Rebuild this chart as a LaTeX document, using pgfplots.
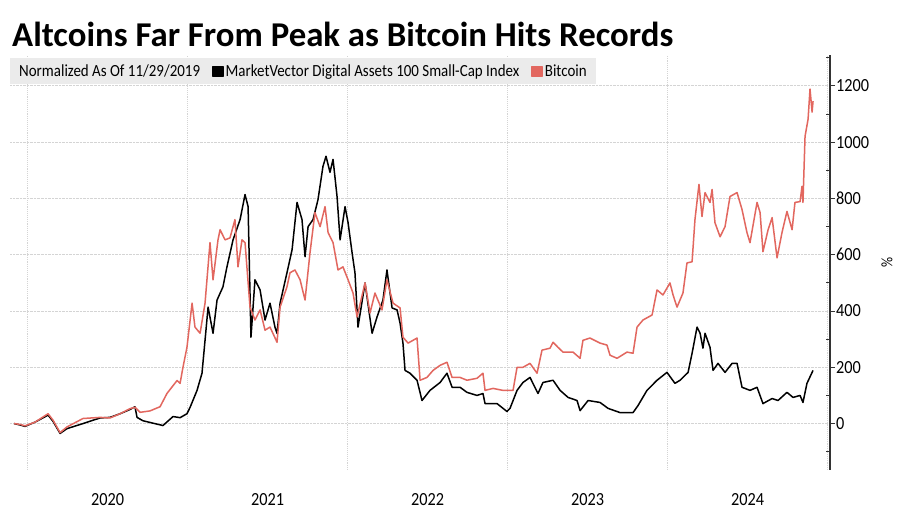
\documentclass[border=0pt]{standalone}
\usepackage{pgfplots}
\pgfplotsset{compat=1.18}
\usepackage{pgfplotstable}
\usepackage{fontspec}
\setmainfont{Carlito}[FakeStretch=0.88]
\newfontfamily\titlefont{Carlito}
\definecolor{btc}{HTML}{E2675F}
\definecolor{legbg}{HTML}{EBEBEB}
\definecolor{gridc}{HTML}{D4D4D4}
\definecolor{axc}{HTML}{333333}

\pgfplotstableread{
year value
2019.915 0
2019.953 -5
2019.984 -10
2020.046 5
2020.128 30
2020.159 8
2020.203 -35
2020.246 -18
2020.346 0
2020.453 20
2020.515 22
2020.578 35
2020.640 50
2020.671 60
2020.684 22
2020.721 10
2020.846 -7
2020.909 25
2020.953 21
2020.996 35
2021.015 57
2021.059 118
2021.090 179
2021.109 296
2021.128 414
2021.159 321
2021.184 439
2021.221 486
2021.246 557
2021.284 653
2021.328 725
2021.359 814
2021.378 771
2021.396 307
2021.421 511
2021.453 475
2021.484 368
2021.515 428
2021.546 343
2021.559 321
2021.578 428
2021.621 536
2021.653 618
2021.684 786
2021.715 725
2021.734 593
2021.753 700
2021.784 725
2021.815 796
2021.846 914
2021.865 950
2021.890 893
2021.909 939
2021.934 807
2021.953 653
2021.984 771
2022.003 714
2022.028 607
2022.046 536
2022.065 343
2022.109 500
2022.153 321
2022.184 379
2022.221 439
2022.246 546
2022.278 411
2022.309 404
2022.328 357
2022.346 286
2022.359 189
2022.390 179
2022.434 154
2022.465 82
2022.515 118
2022.578 146
2022.621 179
2022.653 129
2022.703 129
2022.746 111
2022.809 100
2022.846 107
2022.859 71
2022.934 71
2022.996 43
2023.015 54
2023.059 118
2023.096 146
2023.140 164
2023.190 107
2023.221 146
2023.284 154
2023.328 118
2023.378 93
2023.434 82
2023.453 46
2023.503 82
2023.578 75
2023.628 54
2023.703 39
2023.784 39
2023.815 64
2023.871 118
2023.934 154
2023.996 182
2024.046 143
2024.078 154
2024.128 182
2024.153 250
2024.184 343
2024.203 321
2024.221 268
2024.234 321
2024.265 271
2024.284 189
2024.315 214
2024.359 182
2024.403 214
2024.434 214
2024.465 129
2024.515 118
2024.559 129
2024.596 71
2024.653 89
2024.690 82
2024.746 111
2024.784 93
2024.828 100
2024.846 75
2024.871 143
2024.909 189
}\mvis

\pgfplotstableread{
year value
2019.915 0
2019.953 -3
2019.984 -8
2020.046 5
2020.128 35
2020.159 12
2020.203 -32
2020.246 -12
2020.346 18
2020.453 22
2020.515 20
2020.578 35
2020.640 53
2020.671 58
2020.703 40
2020.765 45
2020.828 60
2020.871 107
2020.934 153
2020.953 143
2020.971 200
2020.996 271
2021.028 428
2021.046 343
2021.078 321
2021.109 428
2021.140 643
2021.159 511
2021.190 653
2021.203 689
2021.234 653
2021.265 660
2021.296 725
2021.315 557
2021.340 653
2021.359 643
2021.390 414
2021.421 368
2021.453 404
2021.484 332
2021.515 343
2021.559 289
2021.578 414
2021.621 486
2021.640 536
2021.671 546
2021.703 511
2021.734 439
2021.765 607
2021.796 750
2021.828 700
2021.859 771
2021.878 679
2021.909 643
2021.940 546
2021.971 557
2022.003 511
2022.034 464
2022.059 379
2022.109 500
2022.140 393
2022.171 464
2022.215 404
2022.246 511
2022.284 428
2022.328 411
2022.346 307
2022.378 286
2022.434 304
2022.453 154
2022.496 164
2022.534 189
2022.578 207
2022.621 218
2022.653 164
2022.703 164
2022.746 154
2022.809 161
2022.846 179
2022.859 118
2022.909 125
2022.971 118
2023.034 118
2023.059 200
2023.096 200
2023.140 214
2023.184 179
2023.215 261
2023.265 268
2023.284 289
2023.315 271
2023.346 254
2023.409 254
2023.453 232
2023.471 296
2023.515 304
2023.578 286
2023.621 279
2023.640 243
2023.684 232
2023.746 254
2023.784 250
2023.809 343
2023.846 368
2023.903 386
2023.934 475
2023.971 457
2024.015 500
2024.034 457
2024.059 414
2024.096 464
2024.121 571
2024.153 575
2024.171 725
2024.196 850
2024.215 736
2024.234 821
2024.265 786
2024.278 832
2024.296 714
2024.328 664
2024.359 700
2024.390 807
2024.434 821
2024.465 761
2024.496 679
2024.515 643
2024.559 786
2024.578 750
2024.596 611
2024.628 689
2024.653 732
2024.684 589
2024.715 679
2024.746 754
2024.778 689
2024.796 786
2024.828 789
2024.840 843
2024.846 786
2024.859 1021
2024.878 1082
2024.890 1189
2024.903 1107
2024.909 1146
}\btcdata

\begin{document}
\begin{tikzpicture}
\path[use as bounding box, fill=white] (0,0) rectangle (900bp,510bp);
\node[anchor=base west, inner sep=0pt, font=\titlefont\fontsize{34.8bp}{38bp}\selectfont\bfseries] at (12bp,463bp) {Altcoins Far From Peak as Bitcoin Hits Records};
\begin{axis}[
  at={(10bp,40bp)}, anchor=south west,
  scale only axis, width=820bp, height=415bp,
  xmin=2019.89, xmax=2025.015, ymin=-165, ymax=1310,
  axis y line*=right, axis x line*=bottom,
  x axis line style={draw=none},
  y axis line style={axc, line width=1.2bp},
  xtick={2020.5,2021.5,2022.5,2023.5,2024.5},
  xticklabels={2020,2021,2022,2023,2024},
  minor xtick={2020,2021,2022,2023,2024,2025},
  every x tick/.style={draw=none},
  xminorgrids=true,
  ytick={0,200,...,1200},
  minor ytick={-100,100,...,1300},
  ymajorgrids=true,
  grid style={gridc, densely dotted, line width=0.9bp},
  minor grid style={gridc, densely dotted, line width=0.9bp},
  tick align=outside,
  major tick length=5bp, minor tick length=4bp,
  every y tick/.style={axc, line width=1bp},
  every minor y tick/.append style={xshift=-4bp},
  /pgf/number format/assume math mode=true,
  /pgf/number format/1000 sep={},
  ticklabel style={font=\fontsize{18.5bp}{20bp}\selectfont, text=black},
  yticklabel style={anchor=west, inner sep=1bp},
  xticklabel style={yshift=-15bp},
  ylabel={\%},
  every axis y label/.style={at={(axis description cs:1.0695,0.5)}, anchor=center, rotate=90, font=\fontsize{16bp}{18bp}\selectfont},
  legend columns=-1,
  legend style={at={(0,1)}, anchor=north west, yshift=-3bp, fill=legbg, draw=none,
    inner xsep=7bp, inner ysep=4.5bp, font=\fontsize{17bp}{19bp}\selectfont,
    nodes={inner sep=2bp},
    /tikz/every even column/.append style={column sep=10bp}},
  legend cell align=left,
  legend image code/.code={\fill[#1] (0bp,-5bp) rectangle (10bp,5bp);},
]
\addlegendimage{empty legend}
\addlegendentry{Normalized As Of 11/29/2019}
\addplot[black, line width=1.5bp, line join=round] table[x=year, y=value] {\mvis};
\addlegendentry{MarketVector Digital Assets 100 Small-Cap Index}
\addplot[btc, line width=1.5bp, line join=round] table[x=year, y=value] {\btcdata};
\addlegendentry{Bitcoin}
\end{axis}
\end{tikzpicture}
\end{document}
